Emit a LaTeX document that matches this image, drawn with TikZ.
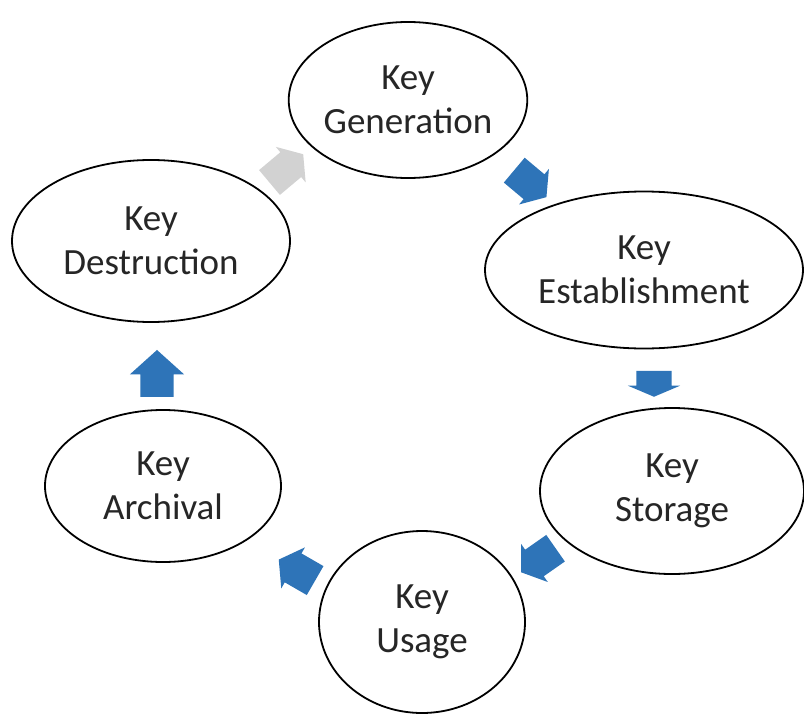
\documentclass[tikz,border=0pt]{standalone}
\usepackage{fontspec}
\setmainfont{Carlito}
\usetikzlibrary{shapes.geometric,shapes.arrows}
\definecolor{arrowblue}{HTML}{2E74B8}
\definecolor{arrowgray}{HTML}{D2D2D2}
\tikzset{
  stage/.style={draw=black, line width=1.8pt, ellipse, inner sep=0pt, align=center,
    font=\fontsize{37}{44}\selectfont, text=black!85},
  blockarrow/.style={single arrow, fill=arrowblue, draw=none, inner xsep=0pt,
    minimum width=0pt, single arrow head indent=0pt},
}
\begin{document}
\begin{tikzpicture}[x=1pt,y=-1pt]
\useasboundingbox (0,0) rectangle (804,715);
\fill[white] (0,0) rectangle (804,715);
\node[stage, minimum width=236pt, minimum height=156pt] (gen) at (408,100) {Key\\Generation};
\node[stage, minimum width=318pt, minimum height=157pt] (est) at (644,270) {Key\\Establishment};
\node[stage, minimum width=264pt, minimum height=166pt] (sto) at (672,491) {Key\\Storage};
\node[stage, minimum width=206pt, minimum height=182pt] (usa) at (422,622) {Key\\Usage};
\node[stage, minimum width=236pt, minimum height=152pt] (arc) at (163,486) {Key\\Archival};
\node[stage, minimum width=278pt, minimum height=162pt] (des) at (151,241) {Key\\Destruction};
% block arrows
\node[blockarrow, fill=arrowgray, minimum height=44pt, inner ysep=16pt, single arrow head extend=7pt, single arrow tip angle=110, rotate=40] (a1) at (282,172) {};
\node[blockarrow, minimum height=42pt, inner ysep=16pt, single arrow head extend=7pt, single arrow tip angle=110, rotate=-40] (a2) at (526,180) {};
\node[blockarrow, minimum height=26pt, inner ysep=17.5pt, single arrow head extend=8.5pt, single arrow tip angle=134, rotate=-90] (a3) at (654,380) {};
\node[blockarrow, minimum height=42pt, inner ysep=16pt, single arrow head extend=7pt, single arrow tip angle=110, rotate=215] (a4) at (543,557) {};
\node[blockarrow, minimum height=42pt, inner ysep=16.5pt, single arrow head extend=7pt, single arrow tip angle=110, rotate=150] (a5) at (302,573) {};
\node[blockarrow, minimum height=47pt, inner ysep=16.5pt, single arrow head extend=10.5pt, single arrow tip angle=96, rotate=90] (a6) at (157,381) {};
\end{tikzpicture}
\end{document}
